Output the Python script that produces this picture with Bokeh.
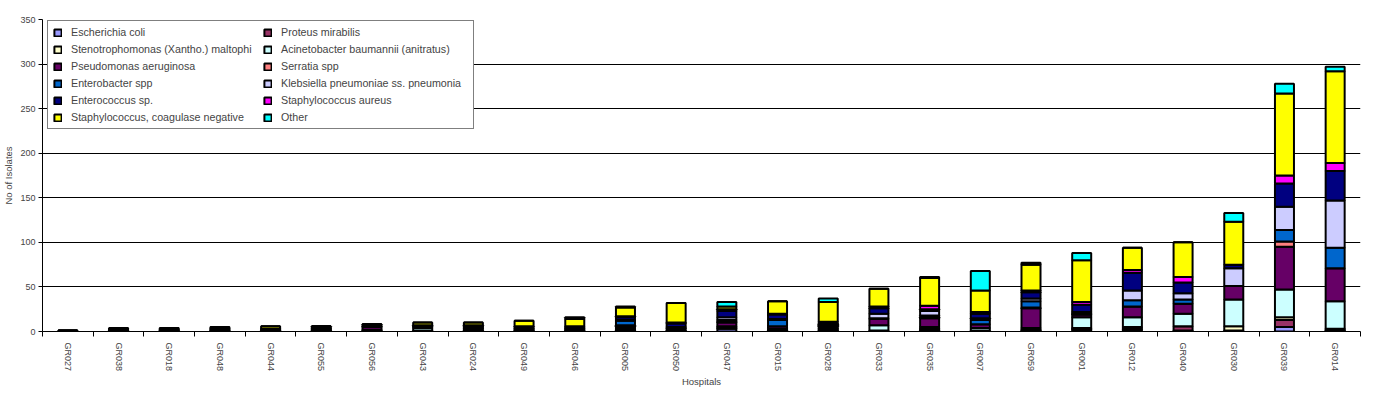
import math
from bokeh.plotting import figure
from bokeh.models import (ColumnDataSource, Range1d, FixedTicker, Legend, LegendItem)
from bokeh.embed import file_html
from bokeh.resources import INLINE

hospitals = ["GR027", "GR038", "GR018", "GR048", "GR044", "GR055", "GR056", "GR043",
             "GR024", "GR049", "GR046", "GR005", "GR050", "GR047", "GR015", "GR028",
             "GR033", "GR035", "GR007", "GR059", "GR001", "GR012", "GR040", "GR030",
             "GR039", "GR014"]

series_names = ["Escherichia coli", "Proteus mirabilis",
                "Stenotrophomonas (Xantho.) maltophi", "Acinetobacter baumannii (anitratus)",
                "Pseudomonas aeruginosa", "Serratia spp",
                "Enterobacter spp", "Klebsiella pneumoniae ss. pneumonia",
                "Enterococcus sp.", "Staphylococcus aureus",
                "Staphylococcus, coagulase negative", "Other"]

ecoli        = [0, 1, 1, 1, 1, 1, 1, 1, 1, 1, 1, 1, 1, 3, 1, 1, 1, 1, 0, 1, 2, 2, 1, 0, 5, 1]
proteus      = [0, 0, 0, 0, 0, 1, 1, 0, 0, 0, 0, 0, 0, 1, 0, 1, 0, 1, 0, 1, 1, 2, 5, 1, 8, 1]
steno        = [0, 0, 0, 0, 0, 0, 0, 0, 0, 0, 0, 1, 0, 1, 1, 1, 0, 1, 1, 0, 1, 1, 0, 5, 3, 1]
acinet       = [0, 0, 0, 0, 0, 0, 0, 3, 2, 1, 1, 2, 2, 1, 1, 1, 6, 2, 3, 2, 12, 11, 14, 30, 31, 31]
pseudo       = [0, 1, 0, 1, 1, 1, 3, 1, 1, 1, 1, 2, 1, 4, 3, 2, 7, 10, 4, 22, 3, 12, 11, 15, 48, 37]
serratia     = [0, 0, 0, 0, 0, 0, 0, 0, 0, 0, 0, 1, 0, 1, 0, 1, 0, 1, 0, 1, 0, 0, 0, 0, 6, 0]
enterobacter = [0, 0, 0, 0, 0, 0, 0, 1, 1, 0, 0, 5, 1, 2, 7, 1, 1, 2, 5, 7, 1, 7, 5, 0, 13, 23]
klebsiella   = [0, 1, 0, 0, 0, 1, 1, 0, 1, 1, 1, 1, 0, 3, 1, 1, 5, 5, 2, 3, 2, 11, 7, 20, 26, 53]
enterococcus = [1, 1, 1, 1, 1, 2, 2, 1, 1, 2, 1, 3, 4, 7, 5, 2, 6, 2, 5, 7, 8, 20, 12, 4, 26, 33]
saureus      = [0, 0, 0, 0, 0, 0, 0, 0, 0, 0, 1, 1, 1, 2, 1, 0, 2, 4, 2, 2, 3, 3, 6, 0, 9, 9]
scn          = [0, 0, 2, 2, 3, 0, 0, 3, 3, 6, 8, 10, 22, 3, 14, 22, 20, 31, 24, 29, 47, 25, 39, 48, 92, 103]
other        = [0, 0, 0, 0, 0, 0, 0, 0, 0, 0, 2, 1, 0, 5, 0, 4, 0, 1, 22, 2, 8, 0, 0, 10, 11, 5]

colors = ["#9999FF", "#993366", "#FFFFCC", "#CCFFFF", "#660066", "#FF8080",
          "#0066CC", "#CCCCFF", "#000080", "#FF00FF", "#FFFF00", "#00FFFF"]

y_ticks = [0, 50, 100, 150, 200, 250, 300, 350]

series = [ecoli, proteus, steno, acinet, pseudo, serratia, enterobacter,
          klebsiella, enterococcus, saureus, scn, other]
keys = ["s%d" % i for i in range(len(series))]

positions = list(range(1, len(hospitals) + 1))
data = {"x": positions}
for k, s in zip(keys, series):
    data[k] = s
source = ColumnDataSource(data)

FONT = "Liberation Sans"

p = figure(width=1373, height=394, output_backend="svg", toolbar_location=None,
           x_range=Range1d(0.5, len(hospitals) + 0.5), y_range=Range1d(0, 350),
           min_border_left=0, min_border_right=13, min_border_top=19, min_border_bottom=63)

renderers = p.vbar_stack(keys, x="x", width=0.375, source=source, fill_color=colors,
                         line_color="black", line_width=2)

items = [LegendItem(label=name, renderers=[r]) for name, r in zip(series_names, renderers)]
# legend fills column by column: put the left column first, then the right one
ordered = items[0::2] + items[1::2]

legend = Legend(items=ordered, ncols=2, location=(5, 202), margin=0, padding=5,
                spacing=5, label_height=12, glyph_width=9, glyph_height=9,
                label_standoff=9, label_width=187,
                label_text_font=FONT, label_text_font_size="10.7px",
                border_line_color="black", border_line_width=1,
                background_fill_color="white", background_fill_alpha=1.0)
p.add_layout(legend, "center")

p.background_fill_color = "white"
p.border_fill_color = "white"
p.outline_line_color = None

p.xgrid.visible = False
p.ygrid.ticker = FixedTicker(ticks=y_ticks[1:-1])
p.ygrid.grid_line_color = "black"
p.ygrid.grid_line_width = 1

xa = p.xaxis[0]
xa.ticker = FixedTicker(ticks=positions,
                        minor_ticks=[x - 0.5 for x in positions] + [len(hospitals) + 0.5])
xa.major_label_overrides = {pos: h for pos, h in zip(positions, hospitals)}
xa.major_tick_line_color = None
xa.major_tick_out = 5
xa.major_tick_in = 0
xa.minor_tick_line_color = "black"
xa.minor_tick_out = 5
xa.minor_tick_in = 0
xa.major_label_orientation = -math.pi / 2
xa.major_label_standoff = 6
xa.major_label_text_font = FONT
xa.major_label_text_font_size = "9px"
xa.axis_label = "Hospitals"
xa.axis_label_text_font = FONT
xa.axis_label_text_font_size = "9.5px"
xa.axis_label_text_font_style = "normal"
xa.axis_label_standoff = 2
xa.axis_line_color = "black"

ya = p.yaxis[0]
ya.ticker = FixedTicker(ticks=y_ticks)
ya.minor_tick_line_color = None
ya.major_tick_out = 4
ya.major_tick_in = 0
ya.major_label_standoff = 3
ya.major_label_text_font = FONT
ya.major_label_text_font_size = "9px"
ya.axis_label = "No of Isolates"
ya.axis_label_text_font = FONT
ya.axis_label_text_font_size = "9.5px"
ya.axis_label_text_font_style = "normal"
ya.axis_label_standoff = 3
ya.axis_line_color = "black"

open("out.html", "w").write(file_html(p, INLINE))
